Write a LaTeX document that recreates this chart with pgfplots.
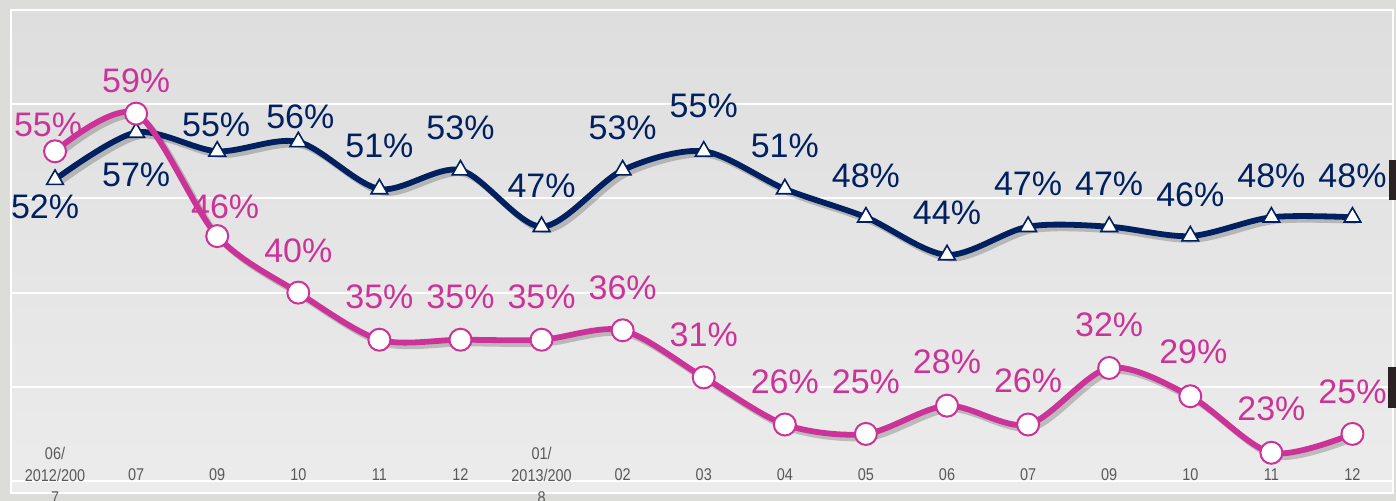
\documentclass[border=0pt]{standalone}
\usepackage{pgfplots}
\pgfplotsset{compat=1.18}
\usepackage{pgfplotstable}
\usepackage{fontspec}
\setmainfont{Liberation Sans}
\newfontfamily\narrowfont[FakeStretch=0.85]{Liberation Sans}
\definecolor{navy}{HTML}{002060}
\definecolor{pinkc}{HTML}{CC3399}
\definecolor{outerbg}{HTML}{DCDDD8}
\definecolor{ticktxt}{HTML}{595959}
\definecolor{darkbox}{HTML}{2B2323}

\pgfplotstableread{
x y dx dy
0 55 -3.5 13
1 59 0 16.5
2 46 4 14.5
3 40 0 21
4 35 0 21.5
5 35 0 21.5
6 35 0 21.5
7 36 0 21.5
8 31 0 21.5
9 26 0 21.5
10 25 0 26
11 28 0 22
12 26 0 22
13 32 0 21.5
14 29 1.5 22
15 23 0 22
16 25 0 21
}\pinkdata

\pgfplotstableread{
x y dx dy
0 52 -5 -13.5
1 57 0 -21
2 55 -0.5 13
3 56 1 12.5
4 51 0 21.5
5 53 0 21
6 47 0 20.5
7 53 0 21
8 55 0 22.5
9 51 0 21.5
10 48 0 20.5
11 44 0 21
12 47 0 21.5
13 47 0 21.5
14 46 0 20.5
15 48 0 20.5
16 48 0 20.5
}\navydata

\begin{document}
\begin{tikzpicture}
\useasboundingbox (-5.5pt,-4pt) rectangle (692.5pt,246.5pt);
\fill[outerbg] (-5.5pt,-4pt) rectangle (692.5pt,246.5pt);
\begin{axis}[
  at={(0,0)}, anchor=south west,
  scale only axis, width=691pt, height=241.5pt,
  xmin=-0.543, xmax=16.5, ymin=18.73, ymax=70,
  axis background/.style={top color=black!13, bottom color=black!7.5},
  axis line style={white, line width=1.2pt},
  ytick={20,30,40,50,60}, yticklabels={},
  ymajorgrids, grid style={white, line width=1pt},
  major tick length=0pt,
  xtick={0,...,16},
  xticklabels={{06/\\2012/200\\7},07,09,10,11,12,{01/\\2013/200\\8},02,03,04,05,06,07,09,10,11,12},
  xticklabel style={align=center, anchor=center, yshift=9pt,
    font=\narrowfont\fontsize{8.5}{11}\selectfont, text=ticktxt},
  clip=false,
  /pgf/number format/assume math mode=true,
]
% shadows
\addplot[black, opacity=0.2, line width=3pt, smooth, tension=0.5, forget plot,
  transform canvas={xshift=1.8pt, yshift=-1.8pt}] table[x=x,y=y] {\navydata};
\addplot[black, opacity=0.2, line width=3pt, smooth, tension=0.5, forget plot,
  transform canvas={xshift=1.8pt, yshift=-1.8pt}] table[x=x,y=y] {\pinkdata};
% navy series
\addplot[navy, line width=2.9pt, smooth, tension=0.5,
  mark=triangle*, mark size=4.8pt,
  mark options={fill=white, draw=navy, line width=0.8pt, solid},
  visualization depends on={\thisrow{dx} \as \dxv},
  visualization depends on={\thisrow{dy} \as \dyv},
  point meta=y,
  nodes near coords={\pgfmathprintnumber{\pgfplotspointmeta}\%},
  every node near coord/.append style={anchor=center, xshift=\dxv pt, yshift=\dyv pt,
     text=navy, font=\fontsize{17}{20}\selectfont},
] table[x=x,y=y] {\navydata};
% pink series
\addplot[pinkc, line width=2.9pt, smooth, tension=0.5,
  mark=*, mark size=5.5pt,
  mark options={fill=white, draw=pinkc, line width=1pt, solid},
  visualization depends on={\thisrow{dx} \as \dxv},
  visualization depends on={\thisrow{dy} \as \dyv},
  point meta=y,
  nodes near coords={\pgfmathprintnumber{\pgfplotspointmeta}\%},
  every node near coord/.append style={anchor=center, xshift=\dxv pt, yshift=\dyv pt,
     text=pinkc, font=\fontsize{17}{20}\selectfont},
] table[x=x,y=y] {\pinkdata};
\end{axis}
\fill[darkbox] (689pt,146.5pt) rectangle (692.5pt,166.5pt);
\fill[darkbox] (688.5pt,42.5pt) rectangle (692.5pt,63pt);
\end{tikzpicture}
\end{document}
